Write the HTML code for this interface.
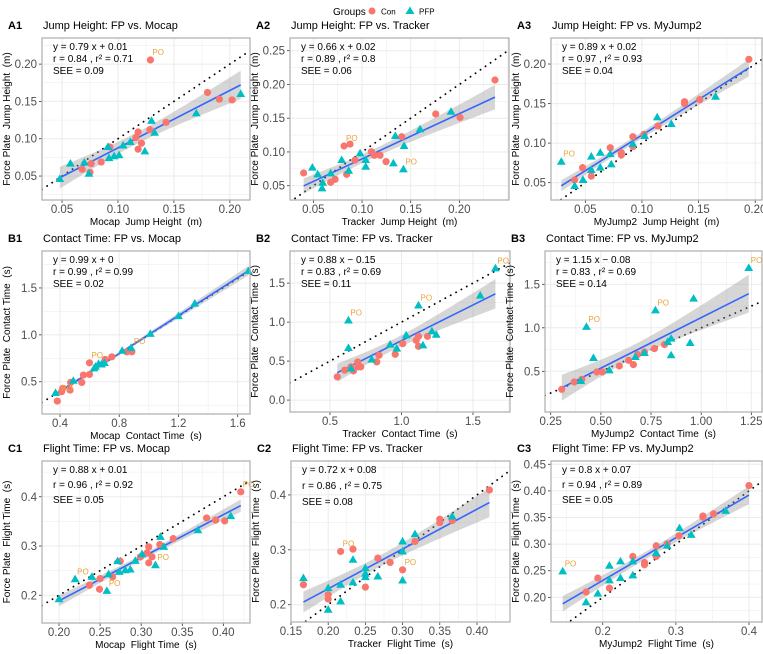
<!DOCTYPE html>
<html><head><meta charset="utf-8">
<style>
html,body{margin:0;padding:0;background:#fff;}
svg{display:block;font-family:"Liberation Sans",Arial,sans-serif;}
text{white-space:pre;}
</style></head>
<body>
<svg id="chart" width="763" height="654" viewBox="0 0 763 654" xmlns="http://www.w3.org/2000/svg">
  <g>
    <text x="333" y="15" font-size="10" fill="#000">Groups</text>
    <circle cx="372" cy="11" r="3.5" fill="#F8766D"/>
    <text x="381" y="14.5" font-size="8" fill="#000">Con</text>
    <polygon points="410,6.5 414.5,14 405.5,14" fill="#00BFC4"/>
    <text x="419" y="14.5" font-size="8" fill="#000">PFP</text>
  </g>
</svg>
<script>
// ---------- DATA ----------
const A1_con=[[0.129,0.2056],[0.180,0.162],[0.1906,0.153],[0.202,0.152],[0.143,0.122],[0.1285,0.112],[0.118,0.109],[0.116,0.1016],[0.121,0.094],[0.118,0.086],[0.0927,0.089],[0.085,0.0688],[0.076,0.0666],[0.068,0.059],[0.075,0.055]];
const A1_pfp=[[0.2097,0.160],[0.170,0.134],[0.130,0.124],[0.1327,0.108],[0.111,0.0957],[0.1046,0.091],[0.101,0.0778],[0.0966,0.0765],[0.092,0.074],[0.070,0.068],[0.0575,0.0666],[0.074,0.053],[0.048,0.046],[0.124,0.083],[0.091,0.089]];
const A1_po=[[0.129,0.2056]];
const A2_con=[[0.2366,0.2066],[0.1757,0.1562],[0.2007,0.151],[0.1408,0.1226],[0.1096,0.1004],[0.1127,0.095],[0.1185,0.095],[0.1247,0.0856],[0.0815,0.1088],[0.0877,0.1117],[0.0928,0.088],[0.0842,0.0668],[0.0723,0.0594],[0.0678,0.055],[0.040,0.0688]];
const A2_pfp=[[0.1914,0.1596],[0.1596,0.1335],[0.1342,0.1236],[0.1432,0.1088],[0.1322,0.0831],[0.1425,0.0742],[0.098,0.0979],[0.1038,0.088],[0.1038,0.0781],[0.0791,0.088],[0.0863,0.0722],[0.0678,0.0683],[0.049,0.0767],[0.0545,0.0668],[0.0596,0.0544],[0.0589,0.046]];
const A2_po=[[0.0815,0.1088],[0.1425,0.0742]];
const A3_con=[[0.1944,0.2059],[0.1376,0.1524],[0.1376,0.150],[0.151,0.155],[0.1141,0.1216],[0.1018,0.1111],[0.092,0.1081],[0.092,0.0955],[0.072,0.0942],[0.0818,0.0879],[0.0818,0.085],[0.0476,0.069],[0.0553,0.0584],[0.0406,0.0534]];
const A3_pfp=[[0.165,0.1587],[0.1135,0.1326],[0.1259,0.1242],[0.1024,0.109],[0.092,0.0989],[0.072,0.0862],[0.0729,0.0732],[0.0632,0.0879],[0.0632,0.069],[0.0553,0.0829],[0.0553,0.066],[0.0479,0.0534],[0.0406,0.0458],[0.0288,0.0765]];
const A3_po=[[0.0288,0.0765]];
const B1_con=[[0.382,0.294],[0.411,0.394],[0.418,0.429],[0.472,0.493],[0.468,0.411],[0.547,0.493],[0.558,0.571],[0.599,0.578],[0.599,0.702],[0.705,0.738],[0.75,0.766],[0.851,0.819],[0.885,0.819]];
const B1_pfp=[[1.672,1.68],[1.31,1.333],[1.2,1.2],[1.01,1.01],[0.88,0.86],[0.82,0.83],[0.70,0.70],[0.68,0.684],[0.64,0.66],[0.63,0.642],[0.49,0.51],[0.37,0.38],[0.66,0.69]];
const B1_po=[[0.599,0.702],[0.885,0.85],[0.395,0.35]];
const B2_con=[[0.551,0.298],[0.603,0.383],[0.647,0.426],[0.664,0.374],[0.694,0.489],[0.699,0.426],[0.715,0.426],[0.827,0.489],[0.843,0.574],[0.956,0.587],[1.009,0.723],[1.103,0.766],[1.119,0.817],[1.119,0.689],[1.182,0.817]];
const B2_pfp=[[1.657,1.689],[1.551,1.34],[1.119,1.213],[0.629,1.021],[0.629,0.668],[0.647,0.404],[0.792,0.519],[0.921,0.711],[0.967,0.66],[1.033,0.83],[1.15,0.702],[1.213,0.881],[1.243,0.838]];
const B2_po=[[1.657,1.689],[1.119,1.213],[0.629,1.021]];
const B3_con=[[0.305,0.293],[0.367,0.377],[0.405,0.408],[0.48,0.492],[0.508,0.492],[0.592,0.561],[0.638,0.626],[0.662,0.577],[0.683,0.692],[0.717,0.722],[0.767,0.761],[0.817,0.807]];
const B3_pfp=[[1.237,1.688],[0.962,1.335],[0.772,1.201],[0.428,1.01],[0.463,0.653],[0.4,0.389],[0.542,0.511],[0.672,0.665],[0.717,0.711],[0.833,0.837],[0.85,0.875],[0.85,0.684],[0.945,0.826]];
const B3_po=[[1.237,1.688],[0.772,1.201],[0.428,1.01]];
const C1_con=[[0.4212,0.410],[0.3796,0.357],[0.3906,0.3525],[0.4016,0.351],[0.339,0.315],[0.3226,0.303],[0.3092,0.2983],[0.3071,0.286],[0.299,0.278],[0.3132,0.278],[0.3092,0.2658],[0.2745,0.269],[0.2652,0.2373],[0.25,0.2339],[0.2493,0.2122],[0.237,0.2203]];
const C1_pfp=[[0.409,0.3607],[0.369,0.332],[0.3234,0.3186],[0.3275,0.2983],[0.301,0.2834],[0.2929,0.2698],[0.2868,0.2522],[0.2807,0.2508],[0.2733,0.2475],[0.2713,0.2692],[0.3173,0.261],[0.2603,0.2427],[0.24,0.2373],[0.2196,0.2325],[0.2582,0.2088],[0.2,0.1919]];
const C1_po=[[0.4212,0.410],[0.3173,0.261],[0.2196,0.2325],[0.2582,0.2088]];
const C2_con=[[0.4167,0.409],[0.35,0.3558],[0.35,0.3497],[0.3667,0.3533],[0.3167,0.3152],[0.2667,0.2848],[0.2833,0.277],[0.30,0.2636],[0.25,0.2321],[0.2333,0.3012],[0.2167,0.297],[0.2,0.2182],[0.2,0.2103],[0.1667,0.2364]];
const C2_pfp=[[0.3667,0.3606],[0.3167,0.3285],[0.30,0.3152],[0.30,0.297],[0.30,0.2442],[0.2333,0.2818],[0.25,0.2667],[0.25,0.2564],[0.25,0.2503],[0.2667,0.2515],[0.2333,0.2406],[0.2167,0.2364],[0.2167,0.2061],[0.2,0.2303],[0.2,0.1909],[0.1667,0.2485]];
const C2_po=[[0.2167,0.297],[0.30,0.2636]];
const C3_con=[[0.4,0.41],[0.337,0.353],[0.337,0.3506],[0.3516,0.3569],[0.3041,0.3156],[0.2881,0.3006],[0.2731,0.2969],[0.2731,0.2769],[0.2411,0.2769],[0.2571,0.2656],[0.2571,0.2613],[0.1932,0.2363],[0.1772,0.21],[0.2091,0.2175]];
const C3_pfp=[[0.368,0.3625],[0.305,0.33],[0.321,0.3175],[0.2881,0.2969],[0.2731,0.2831],[0.2411,0.2675],[0.2411,0.2413],[0.2242,0.2675],[0.2242,0.2363],[0.2091,0.2594],[0.2091,0.2319],[0.1932,0.2069],[0.1772,0.1906],[0.1452,0.2488]];
const C3_po=[[0.1452,0.2488]];

const xTicksJH=[0.05,0.10,0.15,0.20];
const yTicksA1=[0.05,0.10,0.15,0.20];
const yTicksA2=[0.05,0.10,0.15,0.20,0.25];
const xTicksB1=[0.4,0.8,1.2,1.6];
const yTicksB=[0.5,1.0,1.5];
const xTicksB2=[0.5,1.0,1.5];
const yTicksB2=[0.0,0.5,1.0,1.5];
const xTicksB3=[0.25,0.50,0.75,1.00,1.25];
const xTicksC1=[0.20,0.25,0.30,0.35,0.40];
const yTicksC=[0.2,0.3,0.4];
const xTicksC2=[0.15,0.20,0.25,0.30,0.35,0.40];
const xTicksC3=[0.2,0.3,0.4];
const yTicksC3=[0.20,0.25,0.30,0.35,0.40,0.45];

const panels=[
 {id:'A1',title:'Jump Height: FP vs. Mocap',L:42,R:250,T:38,B:200,xd:[0.0321,0.218],yd:[0.0179,0.235],xt:xTicksJH,yt:yTicksA1,xdec:2,ydec:2,con:A1_con,pfp:A1_pfp,po:A1_po,xl:'Mocap  Jump Height  (m)',yl:'Force Plate  Jump Height  (m)',st:['y = 0.79 x + 0.01','r = 0.84 , r² = 0.71','SEE = 0.09'],sp:12},
 {id:'A2',title:'Jump Height: FP vs. Tracker',L:290,R:509,T:38,B:200,xd:[0.026,0.251],yd:[0.0288,0.2688],xt:xTicksJH,yt:yTicksA2,xdec:2,ydec:2,con:A2_con,pfp:A2_pfp,po:A2_po,xl:'Tracker  Jump Height  (m)',yl:'Force Plate  Jump Height  (m)',st:['y = 0.66 x + 0.02','r = 0.89 , r² = 0.8','SEE = 0.06'],sp:12},
 {id:'A3',title:'Jump Height: FP vs. MyJump2',L:551,R:762,T:38,B:200,xd:[0.0197,0.206],yd:[0.0281,0.2329],xt:xTicksJH,yt:yTicksA1,xdec:2,ydec:2,con:A3_con,pfp:A3_pfp,po:A3_po,xl:'MyJump2  Jump Height  (m)',yl:'Force Plate  Jump Height  (m)',st:['y = 0.89 x + 0.02','r = 0.97 , r² = 0.93','SEE = 0.04'],sp:12},
 {id:'B1',title:'Contact Time: FP vs. Mocap',L:42,R:250,T:251,B:414,xd:[0.2785,1.683],yd:[0.156,1.894],xt:xTicksB1,yt:yTicksB,xdec:1,ydec:1,con:B1_con,pfp:B1_pfp,po:B1_po,xl:'Mocap  Contact Time  (s)',yl:'Force Plate  Contact Time  (s)',st:['y = 0.99 x + 0','r = 0.99 , r² = 0.99','SEE = 0.02'],sp:12},
 {id:'B2',title:'Contact Time: FP vs. Tracker',L:290,R:510,T:251,B:412,xd:[0.2203,1.759],yd:[-0.153,1.912],xt:xTicksB2,yt:yTicksB2,xdec:1,ydec:1,con:B2_con,pfp:B2_pfp,po:B2_po,xl:'Tracker  Contact Time  (s)',yl:'Force Plate  Contact Time  (s)',st:['y = 0.88 x − 0.15','r = 0.83 , r² = 0.69','SEE = 0.11'],sp:12},
 {id:'B3',title:'Contact Time: FP vs. MyJump2',L:545,R:762,T:251,B:412,xd:[0.2215,1.303],yd:[0.032,1.883],xt:xTicksB3,yt:yTicksB,xdec:2,ydec:1,con:B3_con,pfp:B3_pfp,po:B3_po,xl:'MyJump2  Contact Time  (s)',yl:'Force Plate  Contact Time  (s)',st:['y = 1.15 x − 0.08','r = 0.83 , r² = 0.69','SEE = 0.14'],sp:12},
 {id:'C1',title:'Flight Time: FP vs. Mocap',L:42,R:250,T:461,B:623,xd:[0.1793,0.4324],yd:[0.1437,0.4726],xt:xTicksC1,yt:yTicksC,xdec:2,ydec:1,con:C1_con,pfp:C1_pfp,po:C1_po,xl:'Mocap  Flight Time  (s)',yl:'Force Plate  Flight Time  (s)',st:['y = 0.88 x + 0.01','r = 0.96 , r² = 0.92','SEE = 0.05'],sp:15},
 {id:'C2',title:'Flight Time: FP vs. Tracker',L:291,R:510,T:461,B:622,xd:[0.15,0.4444],yd:[0.1685,0.4618],xt:xTicksC2,yt:yTicksC,xdec:2,ydec:1,con:C2_con,pfp:C2_pfp,po:C2_po,xl:'Tracker  Flight Time  (s)',yl:'Force Plate  Flight Time  (s)',st:['y = 0.72 x + 0.08','r = 0.86 , r² = 0.75','SEE = 0.08'],sp:16},
 {id:'C3',title:'Flight Time: FP vs. MyJump2',L:551,R:762,T:461,B:622,xd:[0.1292,0.4178],yd:[0.1537,0.4562],xt:xTicksC3,yt:yTicksC3,xdec:1,ydec:2,con:C3_con,pfp:C3_pfp,po:C3_po,xl:'MyJump2  Flight Time  (s)',yl:'Force Plate  Flight Time  (s)',st:['y = 0.8 x + 0.07','r = 0.94 , r² = 0.89','SEE = 0.05'],sp:15}
];

// ---------- DRAW ----------
const NS='http://www.w3.org/2000/svg';
const svg=document.getElementById('chart');
function mk(tag,attrs,parent){const e=document.createElementNS(NS,tag);for(const k in attrs)e.setAttribute(k,attrs[k]);parent.appendChild(e);return e;}

panels.forEach(p=>{
  const g=mk('g',{},svg);
  
  
  const sx=v=>p.L+(v-p.xd[0])/(p.xd[1]-p.xd[0])*(p.R-p.L);
  const sy=v=>p.B-(v-p.yd[0])/(p.yd[1]-p.yd[0])*(p.B-p.T);
  const clipId='clip'+p.id;
  const cp=mk('clipPath',{id:clipId},g);
  mk('rect',{x:p.L,y:p.T,width:p.R-p.L,height:p.B-p.T},cp);

  const grid=mk('g',{},g);
  
  
  const xs=p.xt[1]-p.xt[0], ys=p.yt[1]-p.yt[0];
  for(let k=-1;;k++){const v=p.xt[0]+k*xs/2; if(v>p.xd[1]) break; if(v<p.xd[0]) continue; const X=sx(v); mk('line',{x1:X,x2:X,y1:p.T,y2:p.B,stroke:'#ebebeb','stroke-width':(k%2===0)?1:0.5},grid);}
  for(let k=-1;;k++){const v=p.yt[0]+k*ys/2; if(v>p.yd[1]) break; if(v<p.yd[0]) continue; const Y=sy(v); mk('line',{x1:p.L,x2:p.R,y1:Y,y2:Y,stroke:'#ebebeb','stroke-width':(k%2===0)?1:0.5},grid);}

  p.xt.forEach(v=>{const X=sx(v);
    mk('line',{x1:X,x2:X,y1:p.B,y2:p.B+3,stroke:'#333','stroke-width':0.8},g);
    const t=mk('text',{x:X,y:p.B+13,'font-size':11.5,'text-anchor':'middle',fill:'#4d4d4d'},g);
    
    
    t.textContent=v.toFixed(p.xdec);});
  p.yt.forEach(v=>{const Y=sy(v);
    mk('line',{x1:p.L-3,x2:p.L,y1:Y,y2:Y,stroke:'#333','stroke-width':0.8},g);
    const t=mk('text',{x:p.L-5,y:Y+4,'font-size':11.5,'text-anchor':'end',fill:'#4d4d4d'},g);
    
    
    t.textContent=v.toFixed(p.ydec);});

  const cg=mk('g',{'clip-path':'url(#'+clipId+')'},g);
  const idl=mk('line',{x1:sx(p.xd[0]),y1:sy(p.xd[0]),x2:sx(p.xd[1]),y2:sy(p.xd[1]),stroke:'#000','stroke-width':1.8,'stroke-dasharray':'0.1 6','stroke-linecap':'round'},cg);
  
  

  const all=p.con.concat(p.pfp); const n=all.length;
  const mx=all.reduce((a,d)=>a+d[0],0)/n, my=all.reduce((a,d)=>a+d[1],0)/n;
  let sxx=0,sxy=0; all.forEach(d=>{sxx+=(d[0]-mx)**2;sxy+=(d[0]-mx)*(d[1]-my);});
  const b=sxy/sxx, a=my-b*mx;
  let sse=0; all.forEach(d=>{sse+=(d[1]-a-b*d[0])**2;});
  const s=Math.sqrt(sse/(n-2));
  const xmin=Math.min(...all.map(d=>d[0])), xmax=Math.max(...all.map(d=>d[0]));
  const up=[],lo=[];
  for(let i=0;i<=40;i++){const x=xmin+(xmax-xmin)*i/40;const se=2.03*s*Math.sqrt(1/n+(x-mx)**2/sxx);
    up.push(sx(x)+','+sy(a+b*x+se)); lo.unshift(sx(x)+','+sy(a+b*x-se));}
  const band=mk('polygon',{points:up.concat(lo).join(' '),fill:'#999','fill-opacity':0.4},cg);
  
  
  const rl=mk('line',{x1:sx(xmin),y1:sy(a+b*xmin),x2:sx(xmax),y2:sy(a+b*xmax),stroke:'#3366FF','stroke-width':1.6},cg);
  
  

  p.con.forEach(d=>{const c=mk('circle',{cx:sx(d[0]),cy:sy(d[1]),r:3.6,fill:'#F8766D'},g);
    
    });
  p.pfp.forEach(d=>{const X=sx(d[0]),Y=sy(d[1]);
    const t=mk('polygon',{points:`${X},${Y-4.6} ${X+4.4},${Y+3} ${X-4.4},${Y+3}`,fill:'#00BFC4'},g);
    
    });
  p.po.forEach(d=>{const t=mk('text',{x:sx(d[0])+2,y:sy(d[1])-5,'font-size':8,fill:'#E8A33A'},g);
    
    
    t.textContent='PO';});

  const bd=mk('rect',{x:p.L,y:p.T,width:p.R-p.L,height:p.B-p.T,fill:'none',stroke:'#b3b3b3','stroke-width':1.3},g);
  
  

  p.st.forEach((line,i)=>{const t=mk('text',{x:p.L+11,y:p.T+12+i*p.sp,'font-size':10,fill:'#000'},g);
    
    
    t.textContent=line;});

  const lab=mk('text',{x:p.L-34,y:p.T-9,'font-size':11,'font-weight':'bold',fill:'#000'},g);
  
  
  lab.textContent=p.id;
  const tt=mk('text',{x:p.L+1,y:p.T-9,'font-size':11,fill:'#000'},g);
  
  
  tt.textContent=p.title;
  const xl=mk('text',{x:(p.L+p.R)/2,y:p.B+25,'font-size':10,'text-anchor':'middle',fill:'#000'},g);
  
  
  xl.textContent=p.xl;
  const yx=p.L-32, yy=(p.T+p.B)/2;
  const yl=mk('text',{x:yx,y:yy,'font-size':10,'text-anchor':'middle',fill:'#000',transform:`rotate(-90 ${yx} ${yy})`},g);
  
  
  yl.textContent=p.yl;
});
</script>
</body></html>
